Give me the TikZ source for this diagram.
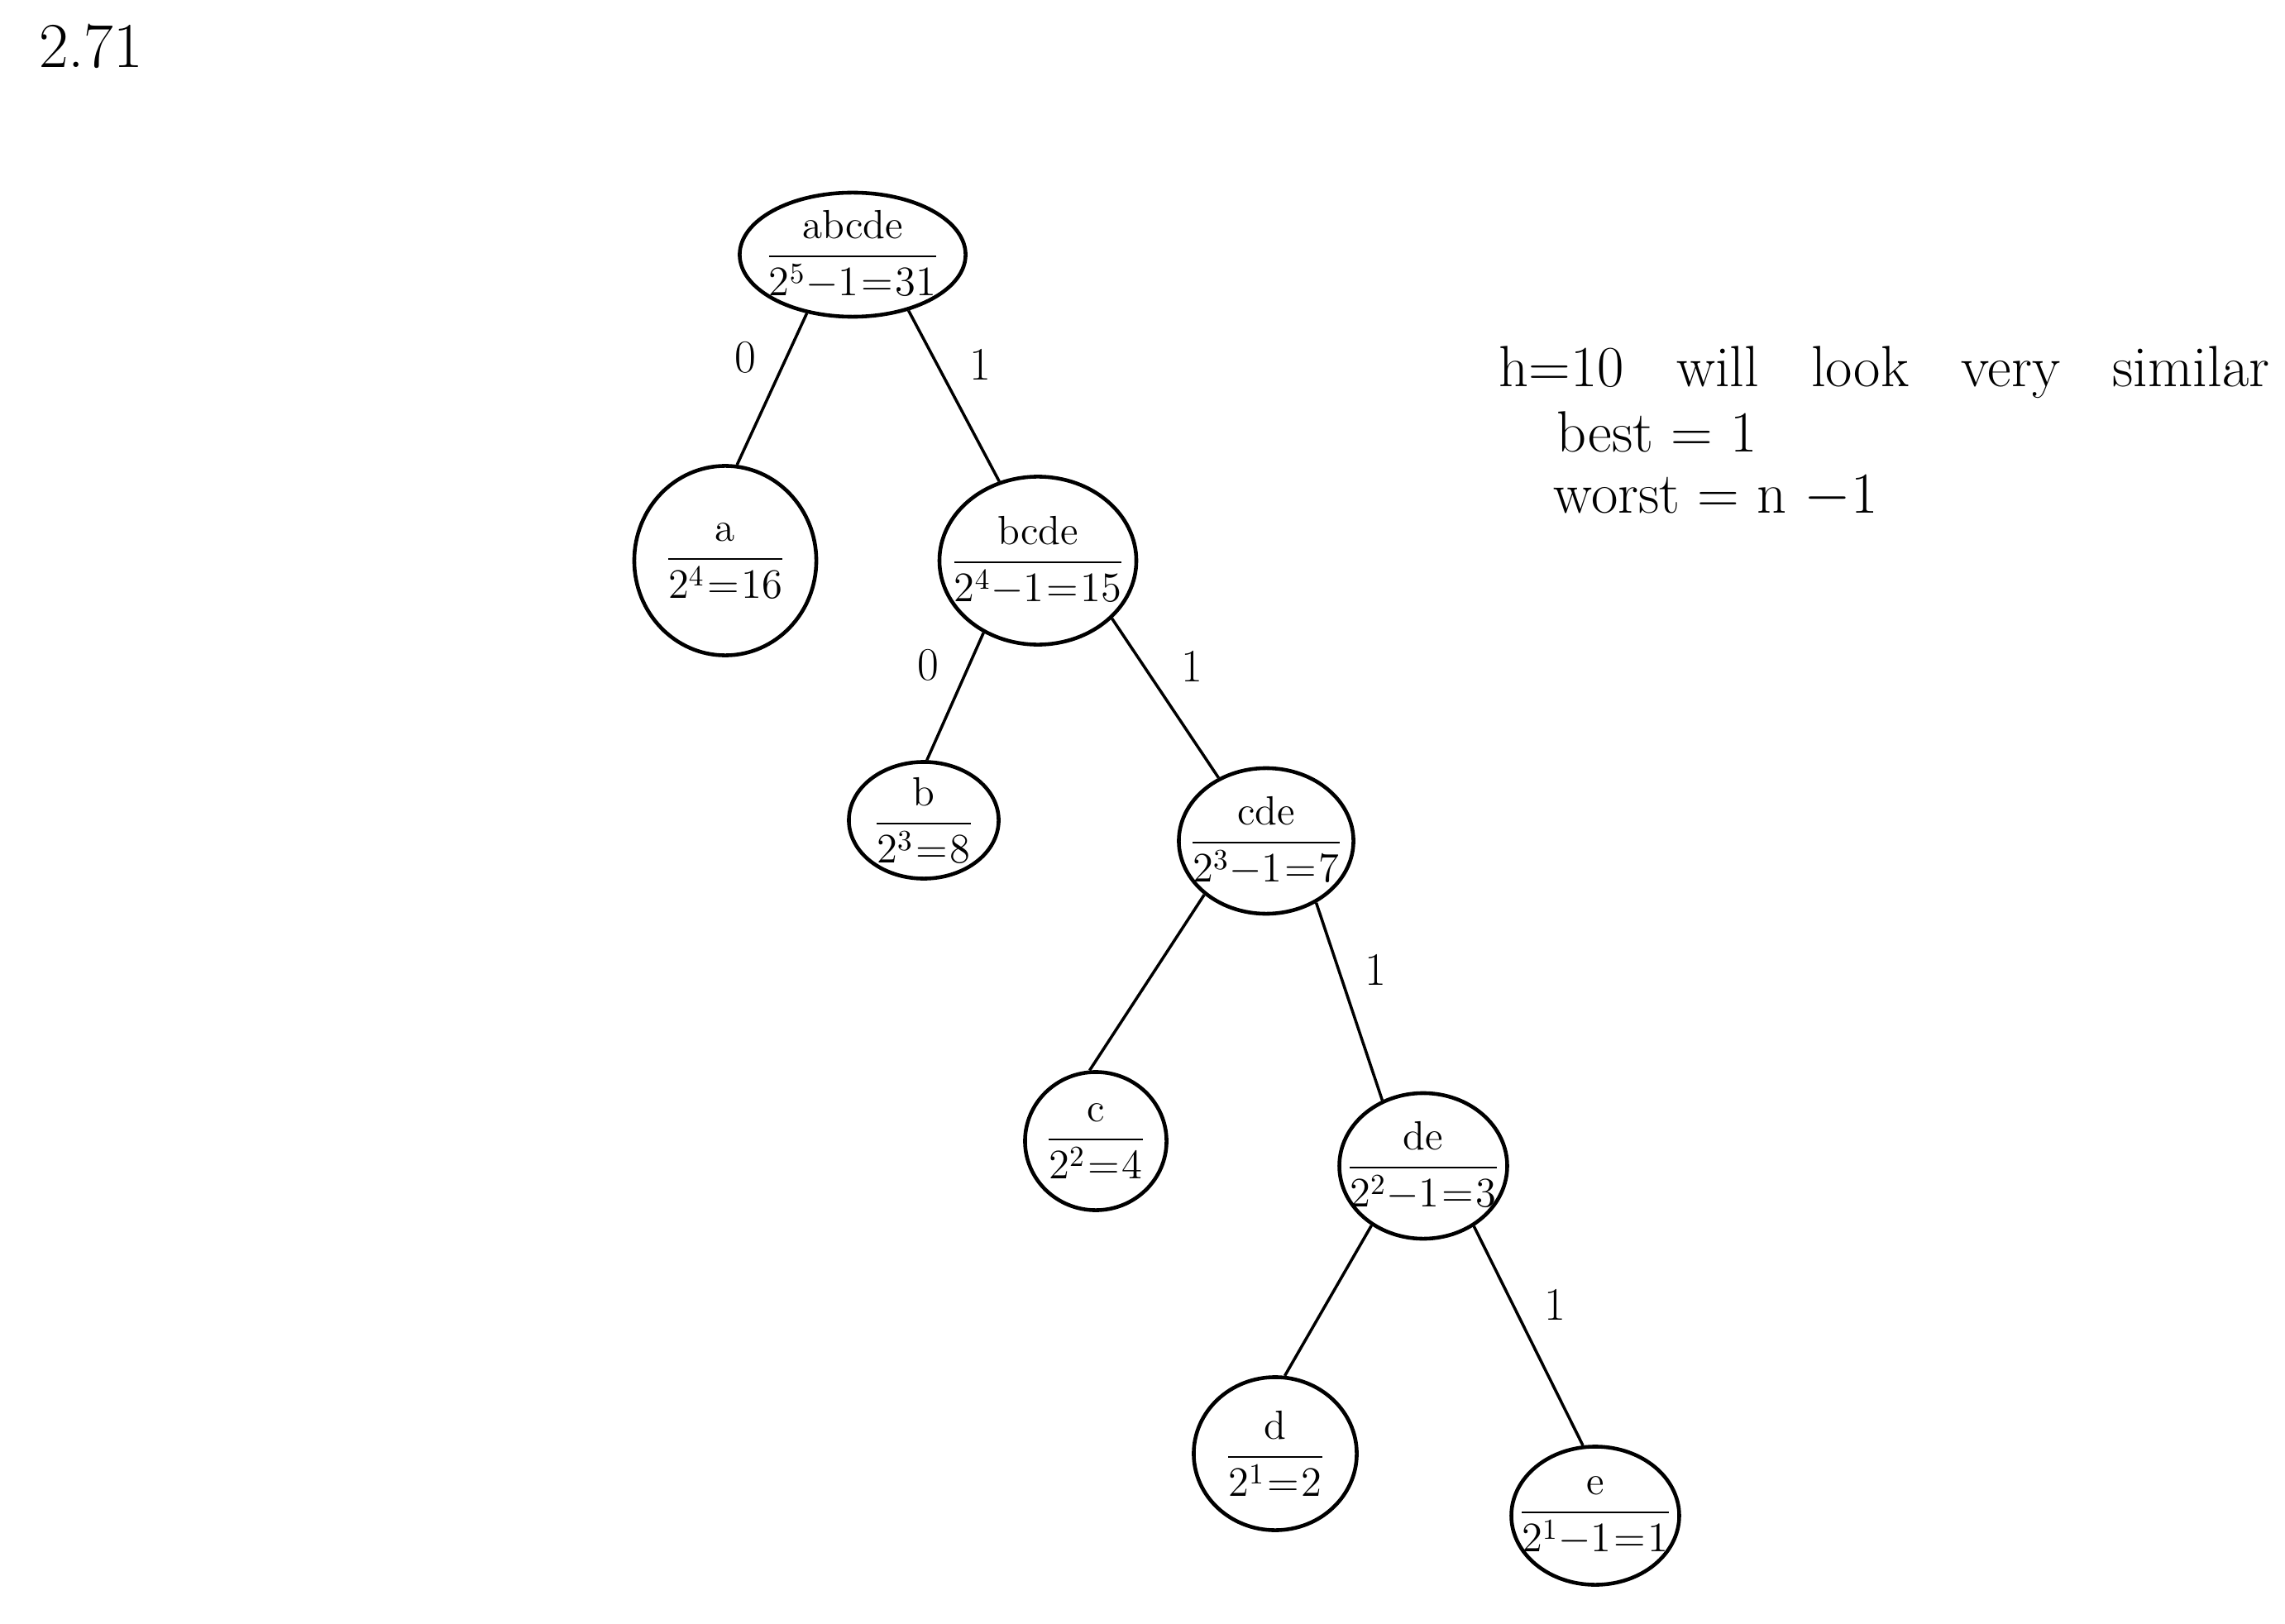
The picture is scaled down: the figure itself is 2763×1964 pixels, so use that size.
\documentclass[tikz,border=0pt]{standalone}
\usepackage{tikz}
\usetikzlibrary{arrows,shapes.geometric}
\usepackage{amsmath,amssymb}
\newcommand{\weight}[2]{$\medmuskip=0mu\thickmuskip=1mu\dfrac{\text{#1}}{#2}$}

\begin{document}
\begin{tikzpicture}[x=0.01cm,y=-0.01cm,auto,semithick]
  \tikzstyle{bubble}=[draw,ellipse,line width=1.3pt,inner sep=-6pt,font=\fontsize{14}{17}\selectfont]
  \tikzstyle{branch}=[line width=1pt]
  \tikzstyle{bit}=[font=\fontsize{16}{19}\selectfont,inner sep=5pt]
  \tikzstyle{note}=[anchor=west,font=\fontsize{20}{24}\selectfont]

  \useasboundingbox (0,0) rectangle (2763,1964);

  \node[font=\fontsize{22}{26}\selectfont] (title) at (110,56) {2.71};

  \node[bubble,minimum width=2.73cm,minimum height=1.50cm] (abcde) at (1031,308) {\weight{abcde}{2^5-1=31}};
  \node[bubble,minimum width=2.20cm,minimum height=2.29cm] (a)     at (877,678)   {\weight{a}{2^4=16}};
  \node[bubble,minimum width=2.29cm,minimum height=2.03cm] (bcde)  at (1255,678)  {\weight{bcde}{2^4-1=15}};
  \node[bubble,minimum width=1.81cm,minimum height=1.41cm] (b)     at (1117,992)  {\weight{b}{2^3=8}};
  \node[bubble,minimum width=2.11cm,minimum height=1.76cm] (cde)   at (1531,1017) {\weight{cde}{2^3-1=7}};
  \node[bubble,minimum width=1.71cm,minimum height=1.67cm] (c)     at (1325,1380) {\weight{c}{2^2=4}};
  \node[bubble,minimum width=1.76cm,minimum height=1.76cm] (de)    at (1721,1410) {\weight{de}{2^2-1=3}};
  \node[bubble,minimum width=1.97cm,minimum height=1.85cm] (d)     at (1542,1758) {\weight{d}{2^1=2}};
  \node[bubble,minimum width=1.73cm,minimum height=1.67cm] (e)     at (1929,1833) {\weight{e}{2^1-1=1}};

  \path (abcde.232) edge[branch] node[bit,swap] {0} (a.83)
        (abcde.-45) edge[branch] node[bit]      {1} (bcde.116)
        (bcde.233)  edge[branch] node[bit,swap] {0} (b.87)
        (bcde.-38)  edge[branch] node[bit]      {1} (cde.127)
        (cde.221)   edge[branch]                    (c.95)
        (cde.-51)   edge[branch] node[bit]      {1} (de.122)
        (de.229)    edge[branch]                    (d.83)
        (de.-50)    edge[branch] node[bit]      {1} (e.100);

  \node[note] (line1) at (1800,450) {h=10\hspace{0.9em}will\hspace{0.9em}look\hspace{0.9em}very\hspace{0.9em}similar};
  \node[note] (line2) at (1870,522) {best = 1};
  \node[note] (line3) at (1866,600) {worst = n $-$1};
\end{tikzpicture}
\end{document}
